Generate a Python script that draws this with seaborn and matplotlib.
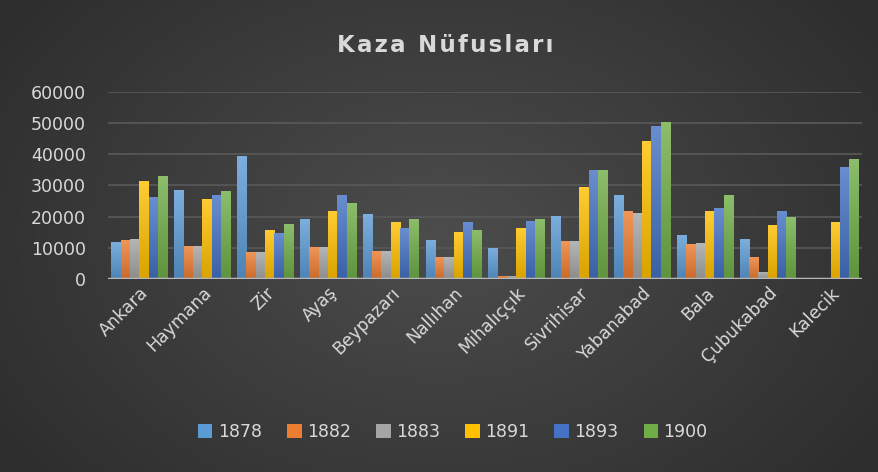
import numpy as np
import pandas as pd
import seaborn as sns
import matplotlib.pyplot as plt
from matplotlib.colors import to_rgb

# kaza (district) names and census years
kazalar = ['Ankara', 'Haymana', 'Zir', 'Ayaş', 'Beypazarı', 'Nallıhan', 'Mihalıççık',
           'Sivrihisar', 'Yabanabad', 'Bala', 'Çubukabad', 'Kalecik']
yillar = ['1878', '1882', '1883', '1891', '1893', '1900']

# population per year (Kalecik has no data for the early years)
n1878 = [12000, 28600, 39500, 19300, 20900, 12600, 10000, 20300, 27000, 14200, 12900, np.nan]
n1882 = [12600, 10700, 8750, 10400, 9100, 7100, 1000, 12300, 21900, 11300, 7100, np.nan]
n1883 = [12900, 10700, 8750, 10400, 9100, 7100, 1000, 12300, 21300, 11600, 2300, np.nan]
n1891 = [31500, 25700, 15800, 21900, 18400, 15200, 16400, 29600, 44400, 21900, 17400, 18400]
n1893 = [26400, 27000, 14800, 27000, 16400, 18400, 18700, 35000, 49200, 22800, 21900, 36000]
n1900 = [33100, 28300, 17700, 24500, 19300, 15800, 19300, 35000, 50400, 27000, 20000, 38600]

renkler = ['#5B9BD5', '#ED7D31', '#A5A5A5', '#FFC000', '#4472C4', '#70AD47']

rows = []
for yil, seri in zip(yillar, [n1878, n1882, n1883, n1891, n1893, n1900]):
    for kaza, v in zip(kazalar, seri):
        rows.append({'Kaza': kaza, 'Yıl': yil, 'Nüfus': v})
df = pd.DataFrame(rows)

txt = '#d9d9d9'
fig = plt.figure(figsize=(8.79, 4.72), dpi=100)

# dark radial background like the office theme
bg = fig.add_axes([0, 0, 1, 1], zorder=-10)
yy, xx = np.mgrid[0:1:200j, 0:1:300j]
r = np.sqrt(((xx - 0.5) / 0.6) ** 2 + ((yy - 0.5) / 0.8) ** 2)
shade = 0.30 - 0.12 * np.clip(r, 0, 1)
bg.imshow(np.dstack([shade] * 3), extent=[0, 1, 0, 1], aspect='auto')
bg.axis('off')

ax = fig.add_axes([108 / 879, 1 - 279 / 472, (862 - 108) / 879, (279 - 92) / 472])
ax.set_facecolor('none')

sns.barplot(data=df, x='Kaza', y='Nüfus', hue='Yıl', palette=renkler, saturation=1,
            width=0.89, ax=ax, zorder=3)

# vertical gradient on every bar
for p in ax.patches:
    h = p.get_height()
    if not np.isfinite(h) or h <= 0:
        continue
    c = np.array(to_rgb(p.get_facecolor()))
    top = c + (1 - c) * 0.2
    bot = c * 0.85
    t = np.linspace(0, 1, 64)[:, None]
    grad = top * (1 - t) + bot * t
    im = ax.imshow(grad[:, None, :], extent=[p.get_x(), p.get_x() + p.get_width(), 0, h],
                   origin='upper', aspect='auto', zorder=4)
    im.set_clip_path(p)

ax.set_xlim(-0.5, 11.5)
ax.set_ylim(0, 60000)
ax.set_yticks(range(0, 60001, 10000))
ax.set_xlabel('')
ax.set_ylabel('')
ax.yaxis.grid(True, color='#575757', lw=1.3, zorder=0)
ax.set_axisbelow(True)
ax.axhline(0, color='#b8b8b8', lw=2.5, zorder=5)
for s in ax.spines.values():
    s.set_visible(False)
ax.tick_params(length=0, colors=txt, labelsize=12.5)
ax.tick_params(axis='y', pad=16)
for lab in ax.get_xticklabels():
    lab.set_rotation(45)
    lab.set_ha('right')
    lab.set_rotation_mode('anchor')

handles, labels = ax.get_legend_handles_labels()
ax.legend_.remove()
fig.legend(handles, labels, loc='center', bbox_to_anchor=(0.515, 1 - 432 / 472), ncol=6,
           frameon=False, fontsize=12.5, labelcolor=txt, handlelength=0.85, handleheight=0.85,
           handletextpad=0.3, columnspacing=1.45)

# spaced-out title
baslik = 'Kaza Nüfusları'
fig.text(0.506, 1 - 45 / 472, '\u200a'.join(baslik), ha='center', va='center',
         fontsize=16.5, fontweight='bold', color=txt)

fig.savefig('out.png', dpi=100)
